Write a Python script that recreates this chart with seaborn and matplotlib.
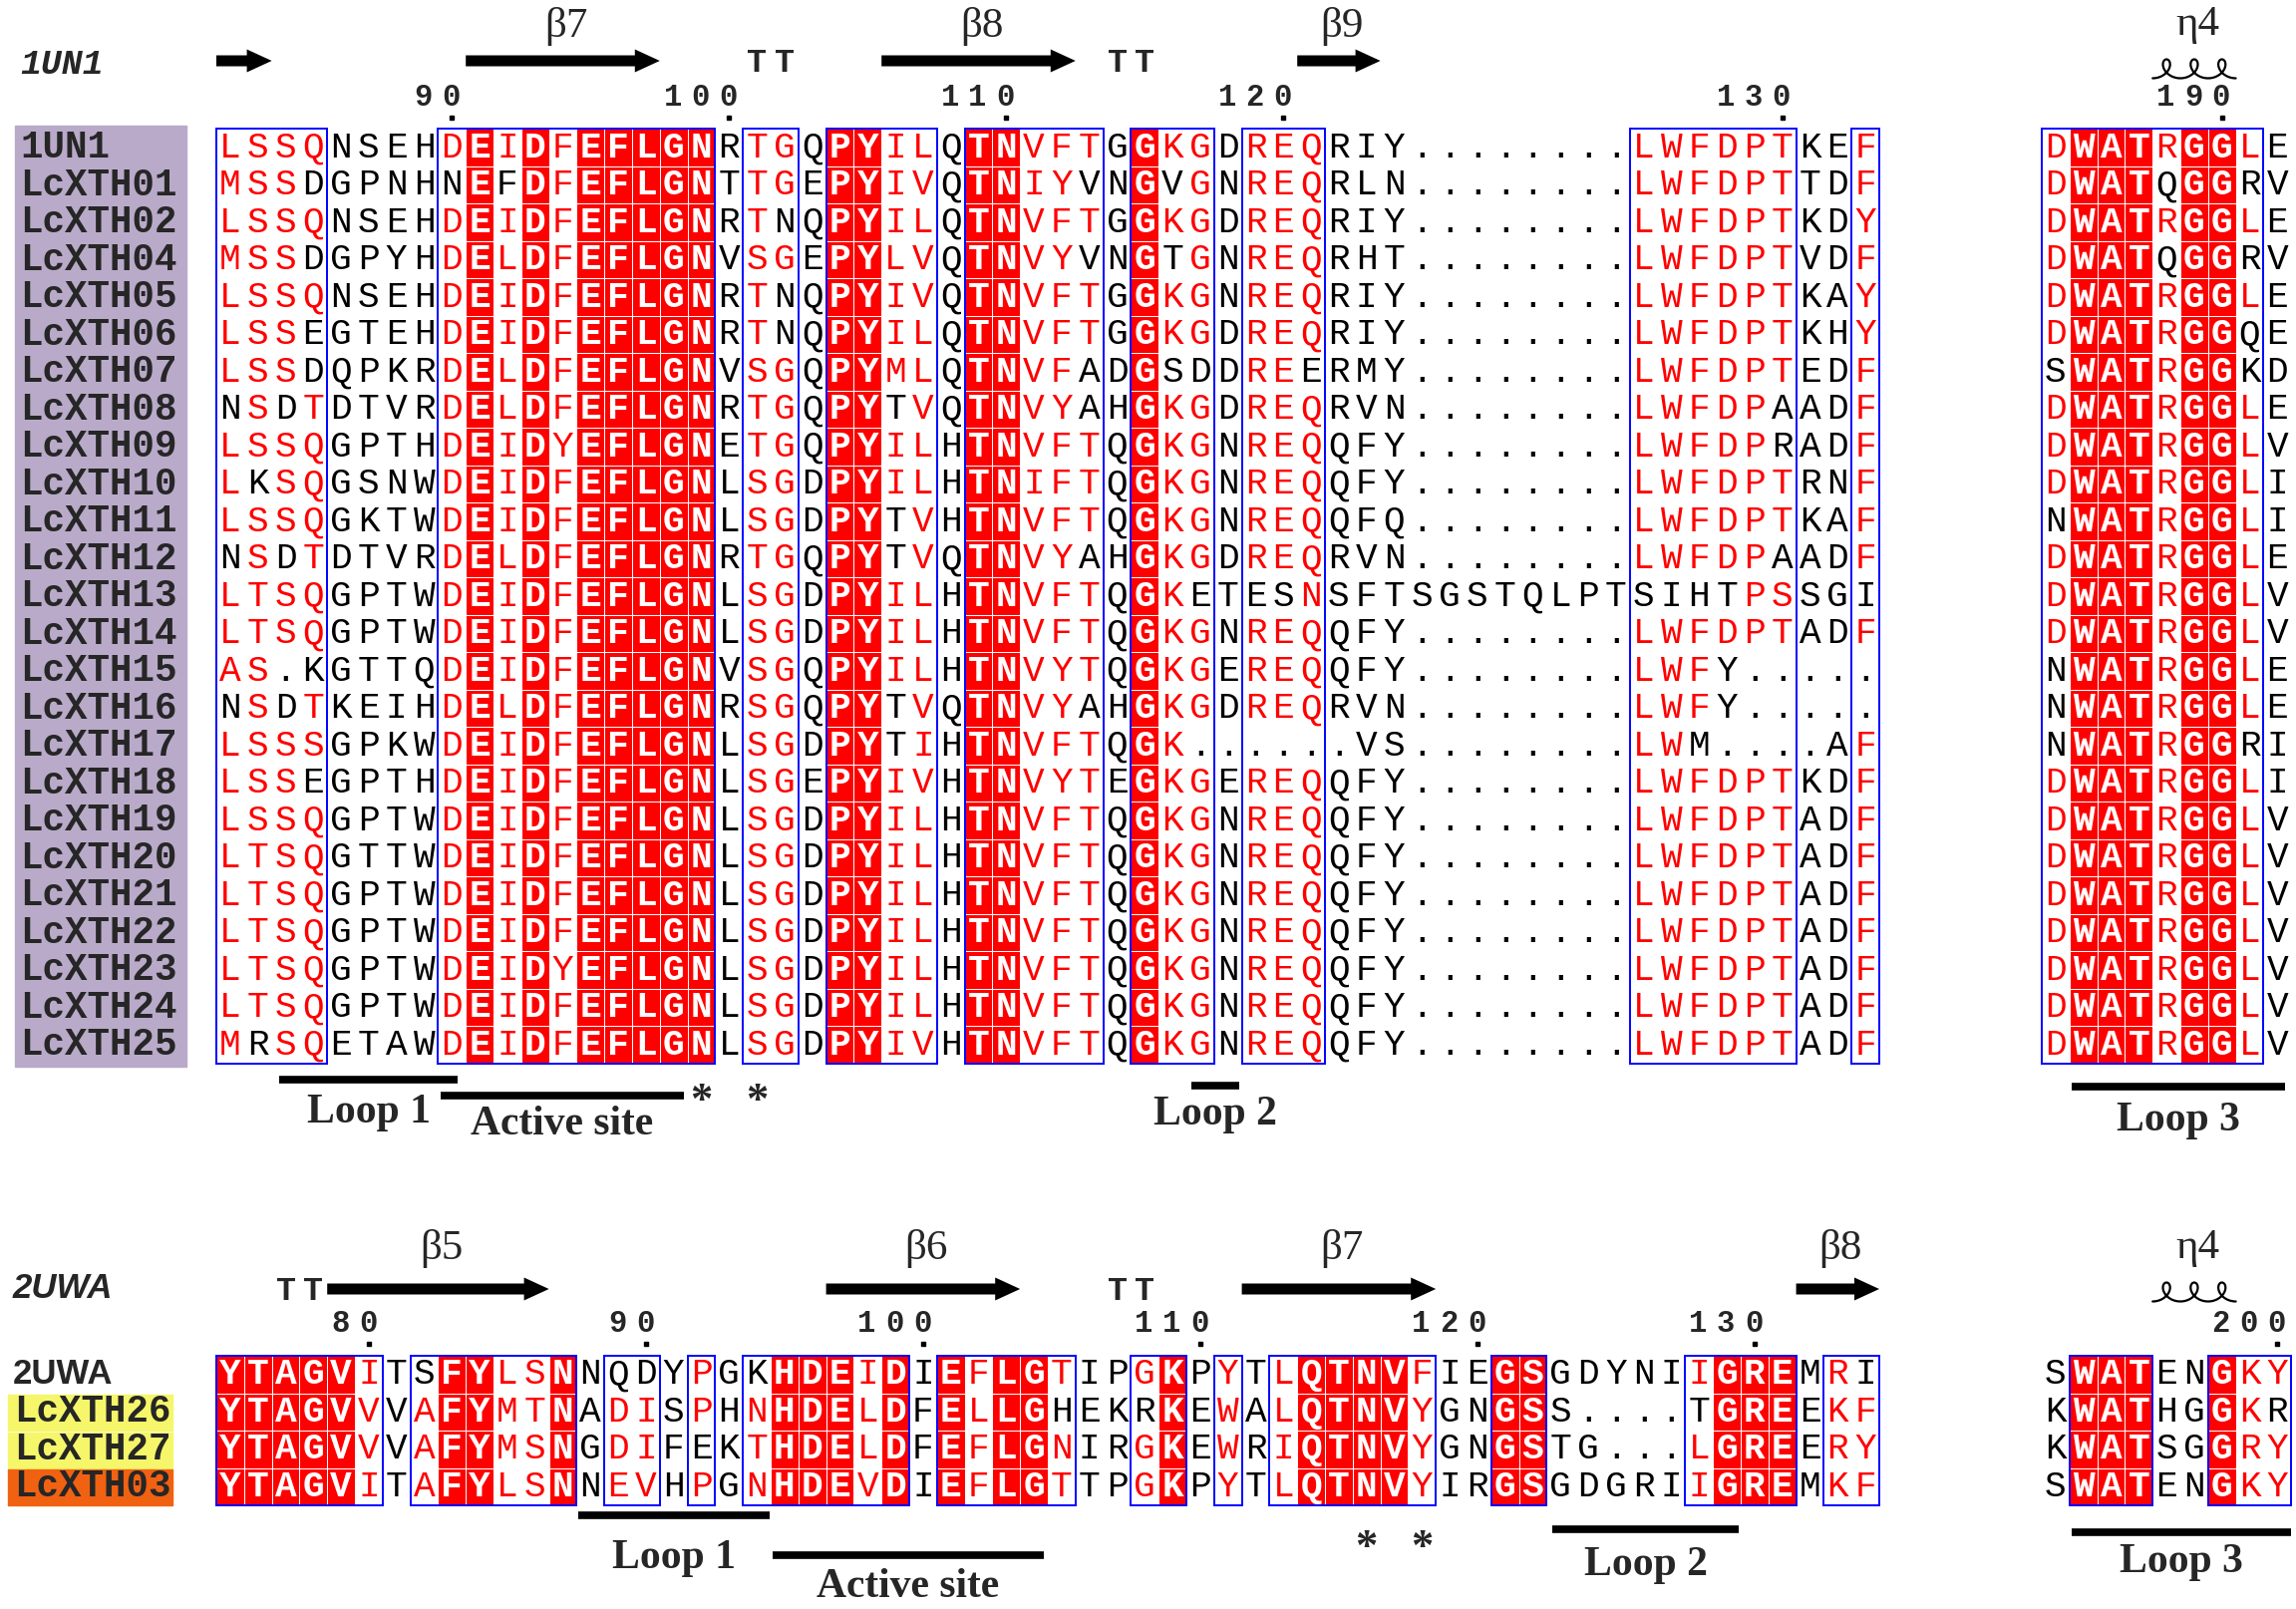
import matplotlib
matplotlib.use("Agg")
import matplotlib.pyplot as plt
from matplotlib.colors import ListedColormap
from matplotlib.patches import Rectangle, FancyArrow
import numpy as np
import seaborn as sns

# ---------------- alignment data ----------------
DOTS = "........"

top_names = ["1UN1", "LcXTH01", "LcXTH02", "LcXTH04", "LcXTH05", "LcXTH06", "LcXTH07",
             "LcXTH08", "LcXTH09", "LcXTH10", "LcXTH11", "LcXTH12", "LcXTH13", "LcXTH14",
             "LcXTH15", "LcXTH16", "LcXTH17", "LcXTH18", "LcXTH19", "LcXTH20", "LcXTH21",
             "LcXTH22", "LcXTH23", "LcXTH24", "LcXTH25"]

top_seqs = [
    "LSSQNSEH" "DEIDFEFLGN" "RTGQ" "PYILQ" "TNVFT" "GGKGD" "REQ" "RIY" + DOTS + "LWFDPT" "KEF",
    "MSSDGPNH" "NEFDFEFLGN" "TTGE" "PYIVQ" "TNIYV" "NGVGN" "REQ" "RLN" + DOTS + "LWFDPT" "TDF",
    "LSSQNSEH" "DEIDFEFLGN" "RTNQ" "PYILQ" "TNVFT" "GGKGD" "REQ" "RIY" + DOTS + "LWFDPT" "KDY",
    "MSSDGPYH" "DELDFEFLGN" "VSGE" "PYLVQ" "TNVYV" "NGTGN" "REQ" "RHT" + DOTS + "LWFDPT" "VDF",
    "LSSQNSEH" "DEIDFEFLGN" "RTNQ" "PYIVQ" "TNVFT" "GGKGN" "REQ" "RIY" + DOTS + "LWFDPT" "KAY",
    "LSSEGTEH" "DEIDFEFLGN" "RTNQ" "PYILQ" "TNVFT" "GGKGD" "REQ" "RIY" + DOTS + "LWFDPT" "KHY",
    "LSSDQPKR" "DELDFEFLGN" "VSGQ" "PYMLQ" "TNVFA" "DGSDD" "REE" "RMY" + DOTS + "LWFDPT" "EDF",
    "NSDTDTVR" "DELDFEFLGN" "RTGQ" "PYTVQ" "TNVYA" "HGKGD" "REQ" "RVN" + DOTS + "LWFDPA" "ADF",
    "LSSQGPTH" "DEIDYEFLGN" "ETGQ" "PYILH" "TNVFT" "QGKGN" "REQ" "QFY" + DOTS + "LWFDPR" "ADF",
    "LKSQGSNW" "DEIDFEFLGN" "LSGD" "PYILH" "TNIFT" "QGKGN" "REQ" "QFY" + DOTS + "LWFDPT" "RNF",
    "LSSQGKTW" "DEIDFEFLGN" "LSGD" "PYTVH" "TNVFT" "QGKGN" "REQ" "QFQ" + DOTS + "LWFDPT" "KAF",
    "NSDTDTVR" "DELDFEFLGN" "RTGQ" "PYTVQ" "TNVYA" "HGKGD" "REQ" "RVN" + DOTS + "LWFDPA" "ADF",
    "LTSQGPTW" "DEIDFEFLGN" "LSGD" "PYILH" "TNVFT" "QGKET" "ESN" "SFT" "SGSTQLPT" "SIHTPS" "SGI",
    "LTSQGPTW" "DEIDFEFLGN" "LSGD" "PYILH" "TNVFT" "QGKGN" "REQ" "QFY" + DOTS + "LWFDPT" "ADF",
    "AS.KGTTQ" "DEIDFEFLGN" "VSGQ" "PYILH" "TNVYT" "QGKGE" "REQ" "QFY" + DOTS + "LWFY.." "...",
    "NSDTKEIH" "DELDFEFLGN" "RSGQ" "PYTVQ" "TNVYA" "HGKGD" "REQ" "RVN" + DOTS + "LWFY.." "...",
    "LSSSGPKW" "DEIDFEFLGN" "LSGD" "PYTIH" "TNVFT" "QGK.." "..." ".VS" + DOTS + "LWM..." ".AF",
    "LSSEGPTH" "DEIDFEFLGN" "LSGE" "PYIVH" "TNVYT" "EGKGE" "REQ" "QFY" + DOTS + "LWFDPT" "KDF",
    "LSSQGPTW" "DEIDFEFLGN" "LSGD" "PYILH" "TNVFT" "QGKGN" "REQ" "QFY" + DOTS + "LWFDPT" "ADF",
    "LTSQGTTW" "DEIDFEFLGN" "LSGD" "PYILH" "TNVFT" "QGKGN" "REQ" "QFY" + DOTS + "LWFDPT" "ADF",
    "LTSQGPTW" "DEIDFEFLGN" "LSGD" "PYILH" "TNVFT" "QGKGN" "REQ" "QFY" + DOTS + "LWFDPT" "ADF",
    "LTSQGPTW" "DEIDFEFLGN" "LSGD" "PYILH" "TNVFT" "QGKGN" "REQ" "QFY" + DOTS + "LWFDPT" "ADF",
    "LTSQGPTW" "DEIDYEFLGN" "LSGD" "PYILH" "TNVFT" "QGKGN" "REQ" "QFY" + DOTS + "LWFDPT" "ADF",
    "LTSQGPTW" "DEIDFEFLGN" "LSGD" "PYILH" "TNVFT" "QGKGN" "REQ" "QFY" + DOTS + "LWFDPT" "ADF",
    "MRSQETAW" "DEIDFEFLGN" "LSGD" "PYIVH" "TNVFT" "QGKGN" "REQ" "QFY" + DOTS + "LWFDPT" "ADF",
]

top_right_seqs = ["DWATRGGLE", "DWATQGGRV", "DWATRGGLE", "DWATQGGRV", "DWATRGGLE",
                  "DWATRGGQE", "SWATRGGKD", "DWATRGGLE", "DWATRGGLV", "DWATRGGLI",
                  "NWATRGGLI", "DWATRGGLE", "DWATRGGLV", "DWATRGGLV", "NWATRGGLE",
                  "NWATRGGLE", "NWATRGGRI", "DWATRGGLI", "DWATRGGLV", "DWATRGGLV",
                  "DWATRGGLV", "DWATRGGLV", "DWATRGGLV", "DWATRGGLV", "DWATRGGLV"]

# strictly conserved columns (red fill), similarity boxes, residues drawn red per column
top_fill = [10, 12, 14, 15, 16, 17, 18, 23, 24, 28, 29, 34]
top_boxes = [(1, 4), (9, 18), (20, 21), (23, 26), (28, 32), (34, 36), (38, 40), (52, 57), (60, 60)]
top_red = {1: "LMA", 2: "ST", 3: "S", 4: "QTS", 9: "D", 11: "IL", 13: "FY", 20: "TS", 21: "G",
           25: "ILM", 26: "LVI", 30: "VI", 31: "FY", 32: "T", 35: "K", 36: "G", 38: "R",
           39: "E", 40: "QN", 52: "L", 53: "W", 54: "F", 55: "D", 56: "P", 57: "TS", 60: "FY"}
top_right_fill = [2, 3, 4, 6, 7]
top_right_boxes = [(1, 8)]
top_right_red = {1: "D", 5: "R", 8: "L"}

top_ticks = [90, 100, 110, 120, 130]
top_tick_cols = [9, 19, 29, 39, 57]
top_right_ticks = [190]
top_right_tick_cols = [7]

bottom_names = ["2UWA", "LcXTH26", "LcXTH27", "LcXTH03"]
bottom_seqs = [
    "YTAGVI" "T" "SFYLSN" "N" "QD" "Y" "P" "G" "KHDEID" "I" "EFLGT" "IP" "GK" "P" "Y" "T" "LQTNVF" "IE" "GS" "GDYNI" "IGRE" "M" "RI",
    "YTAGVV" "V" "AFYMTN" "A" "DI" "S" "P" "H" "NHDELD" "F" "ELLGH" "EK" "RK" "E" "W" "A" "LQTNVY" "GN" "GS" "S...." "TGRE" "E" "KF",
    "YTAGVV" "V" "AFYMSN" "G" "DI" "F" "E" "K" "THDELD" "F" "EFLGN" "IR" "GK" "E" "W" "R" "IQTNVY" "GN" "GS" "TG..." "LGRE" "E" "RY",
    "YTAGVI" "T" "AFYLSN" "N" "EV" "H" "P" "G" "NHDEVD" "I" "EFLGT" "TP" "GK" "P" "Y" "T" "LQTNVY" "IR" "GS" "GDGRI" "IGRE" "M" "KF",
]
bottom_right_seqs = ["SWATENGKY", "KWATHGGKR", "KWATSGGRY", "SWATENGKY"]

bottom_fill = [1, 2, 3, 4, 5, 9, 10, 13, 21, 22, 23, 25, 27, 29, 30, 35, 40, 41, 42, 43, 47, 48, 55, 56, 57]
bottom_boxes = [(1, 6), (8, 13), (15, 16), (18, 18), (20, 25), (27, 31), (34, 35), (37, 37),
                (39, 44), (47, 48), (54, 57), (59, 60)]
bottom_red = {6: "IV", 8: "A", 11: "LM", 12: "ST", 15: "DE", 16: "IV", 18: "P", 20: "NT",
              24: "ILV", 28: "FL", 31: "TN", 34: "G", 37: "YW", 39: "LI", 44: "FY", 54: "IL",
              59: "RK", 60: "FY"}
bottom_right_fill = [2, 3, 4, 7]
bottom_right_boxes = [(2, 4), (7, 9)]
bottom_right_red = {8: "KR", 9: "Y"}

bottom_ticks = [80, 90, 100, 110, 120, 130]
bottom_tick_cols = [6, 16, 26, 36, 46, 56]
bottom_right_ticks = [200]
bottom_right_tick_cols = [9]

# secondary structure elements: (kind, first column, last column, label)
top_ss = [("arrow", 1, 2, ""), ("arrow", 10, 16, "β7"), ("tt", 20, 21, ""),
          ("arrow", 25, 31, "β8"), ("tt", 33, 34, ""), ("arrow", 40, 42, "β9")]
top_right_ss = [("coil", 5, 7, "η4")]
bottom_ss = [("tt", 3, 4, ""), ("arrow", 5, 12, "β5"), ("arrow", 23, 29, "β6"),
             ("tt", 33, 34, ""), ("arrow", 38, 44, "β7"), ("arrow", 58, 60, "β8")]
bottom_right_ss = [("coil", 5, 7, "η4")]

# annotated regions: (label, span start, span end) in column units from block edge
top_regions = [("Loop 1", 2.27, 8.71), ("Active site", 8.09, 16.87), ("Loop 2", 35.18, 36.91)]
top_right_regions = [("Loop 3", 1.08, 8.78)]
bottom_regions = [("Loop 1", 13.06, 19.96), ("Active site", 20.07, 29.86), ("Loop 2", 48.2, 54.93)]
bottom_right_regions = [("Loop 3", 1.08, 9.0)]
top_stars = [18, 20]
bottom_stars = [42, 44]

# ---------------- layout / style ----------------
W, H = 2303, 1614
CW, RH = 27.8, 37.5
LEFT_MAIN, LEFT_RIGHT = 217, 2048
TOP_TOP, BOT_TOP = 129.4, 1360
RED, BLUE = "#ff0000", "#0000ff"
PURPLE, YELLOW, ORANGE = "#b9aac9", "#f6f66a", "#f06212"
MONO, SERIF, SANS = "Liberation Mono", "Liberation Serif", "Liberation Sans"
name_bg = {"LcXTH26": YELLOW, "LcXTH27": YELLOW, "LcXTH03": ORANGE}
top_region_y = [(1083, 1116), (1099, 1128), (1089, 1118)]
top_right_region_y = [(1090, 1124)]
bottom_region_y = [(1520, 1563), (1560, 1592), (1534, 1570)]
bottom_right_region_y = [(1537, 1567)]

sns.set_theme(style="white")
plt.rcParams["font.family"] = [MONO, "DejaVu Sans"]

fig = plt.figure(figsize=(W / 100, H / 100), dpi=100)
fig.patch.set_facecolor("white")


def draw_block(seqs, fill, boxes, red, left, top):
    nrow, ncol = len(seqs), len(seqs[0])
    ax = fig.add_axes([left / W, 1 - (top + nrow * RH) / H, ncol * CW / W, nrow * RH / H])
    mask = np.zeros((nrow, ncol))
    mask[:, [c - 1 for c in fill]] = 1
    sns.heatmap(mask, ax=ax, cmap=ListedColormap(["white", RED]), vmin=0, vmax=1,
                cbar=False, xticklabels=False, yticklabels=False,
                linewidths=0.5, linecolor="white")
    inbox = set(c for a, b in boxes for c in range(a, b + 1))
    for r, seq in enumerate(seqs):
        for c, ch in enumerate(seq, start=1):
            if c in fill:
                color, weight = "white", "bold"
            elif c in inbox and ch in red.get(c, ""):
                color, weight = RED, "normal"
            else:
                color, weight = "black", "normal"
            ax.text(c - 0.5, r + 0.5, ch, ha="center", va="center", color=color,
                    fontweight=weight, fontsize=26, family=MONO)
    for a, b in boxes:
        ax.add_patch(Rectangle((a - 1, 0), b - a + 1, nrow, fill=False, edgecolor=BLUE,
                               lw=1.4, clip_on=False, zorder=5))
    return ax


draw_block(top_seqs, top_fill, top_boxes, top_red, LEFT_MAIN, TOP_TOP)
draw_block(top_right_seqs, top_right_fill, top_right_boxes, top_right_red, LEFT_RIGHT, TOP_TOP)
draw_block(bottom_seqs, bottom_fill, bottom_boxes, bottom_red, LEFT_MAIN, BOT_TOP)
draw_block(bottom_right_seqs, bottom_right_fill, bottom_right_boxes, bottom_right_red, LEFT_RIGHT, BOT_TOP)

# overlay in pixel coordinates for labels and annotations
ov = fig.add_axes([0, 0, 1, 1], facecolor="none")
ov.set_xlim(0, W)
ov.set_ylim(H, 0)
ov.axis("off")

# sequence names
ov.add_patch(Rectangle((15, 126), 172, 944, color=PURPLE, zorder=0))
for i, n in enumerate(top_names):
    ov.text(20, TOP_TOP + (i + 0.5) * RH, n, ha="left", va="center", fontsize=27,
            fontweight="bold", family=MONO)
for i, n in enumerate(bottom_names):
    y = BOT_TOP + (i + 0.5) * RH
    if n in name_bg:
        ov.add_patch(Rectangle((8, y - RH / 2 + 1.5), 165, RH - 1.5, color=name_bg[n], zorder=0))
    if n.startswith("2"):
        ov.text(13, y, n, ha="left", va="center", fontsize=25, fontweight="bold", family=SANS)
    else:
        ov.text(14, y, n, ha="left", va="center", fontsize=27, fontweight="bold", family=MONO)

ov.text(20, 64, "1UN1", ha="left", va="center", fontsize=25, fontweight="bold",
        fontstyle="italic", family=MONO)
ov.text(13, 1293, "2UWA", ha="left", va="center", fontsize=25, fontweight="bold",
        fontstyle="italic", family=SANS)


def draw_ss(elems, left, y_el, y_lab):
    for kind, a, b, label in elems:
        x0 = left + (a - 1) * CW
        x1 = left + b * CW
        if kind == "arrow":
            ov.add_patch(FancyArrow(x0, y_el, x1 - x0, 0, width=11, head_width=23,
                                    head_length=25, length_includes_head=True,
                                    color="black", lw=0))
        elif kind == "tt":
            for c in range(a, b + 1):
                ov.text(left + (c - 0.5) * CW, y_el + 2, "T", ha="center", va="center",
                        fontsize=24, fontweight="bold", family=MONO)
        elif kind == "coil":
            t = np.linspace(np.pi, 7 * np.pi, 500)
            r = (x1 - x0) / (6 * np.pi)
            d = 9.5
            ov.plot(x0 + r * (t - np.pi) - d * np.sin(t), y_el - d * np.cos(t) + 1,
                    color="black", lw=1.6)
        if label:
            ov.text((x0 + x1) / 2 + 3, y_lab, label, ha="center", va="center", fontsize=31,
                    family=[SERIF, "DejaVu Serif"])


draw_ss(top_ss, LEFT_MAIN, 61, 27)
draw_ss(top_right_ss, LEFT_RIGHT, 68, 25)
draw_ss(bottom_ss, LEFT_MAIN, 1293, 1252)
draw_ss(bottom_right_ss, LEFT_RIGHT, 1295, 1252)


def draw_ticks(ticks, cols, left, y_num, y_dot):
    for n, c in zip(ticks, cols):
        xc = left + (c - 0.5) * CW
        ov.plot([xc], [y_dot], marker="s", ms=2.6, color="black", lw=0)
        for k, ch in enumerate(reversed(str(n))):
            ov.text(xc - 1 - k * CW, y_num, ch, ha="center", va="center", fontsize=22,
                    fontweight="bold", family=MONO)


draw_ticks(top_ticks, top_tick_cols, LEFT_MAIN, 98, 118)
draw_ticks(top_right_ticks, top_right_tick_cols, LEFT_RIGHT, 98, 118)
draw_ticks(bottom_ticks, bottom_tick_cols, LEFT_MAIN, 1328, 1348)
draw_ticks(bottom_right_ticks, bottom_right_tick_cols, LEFT_RIGHT, 1328, 1348)


def draw_regions(regs, ys, left):
    for (label, s, e), (yb, yt) in zip(regs, ys):
        x0, x1 = left + s * CW, left + e * CW
        ov.plot([x0, x1], [yb, yb], color="black", lw=5.5, solid_capstyle="butt")
        ov.text((x0 + x1) / 2, yt, label, ha="center", va="center", fontsize=30,
                fontweight="bold", family=SERIF)


draw_regions(top_regions, top_region_y, LEFT_MAIN)
draw_regions(top_right_regions, top_right_region_y, LEFT_RIGHT)
draw_regions(bottom_regions, bottom_region_y, LEFT_MAIN)
draw_regions(bottom_right_regions, bottom_right_region_y, LEFT_RIGHT)

for c in top_stars:
    ov.text(LEFT_MAIN + (c - 0.5) * CW, 1105, "*", ha="center", va="center", fontsize=32,
            fontweight="bold", family=SERIF)
for c in bottom_stars:
    ov.text(LEFT_MAIN + (c - 0.5) * CW, 1553, "*", ha="center", va="center", fontsize=32,
            fontweight="bold", family=SERIF)

fig.savefig("out.png", dpi=100)
plt.close(fig)
